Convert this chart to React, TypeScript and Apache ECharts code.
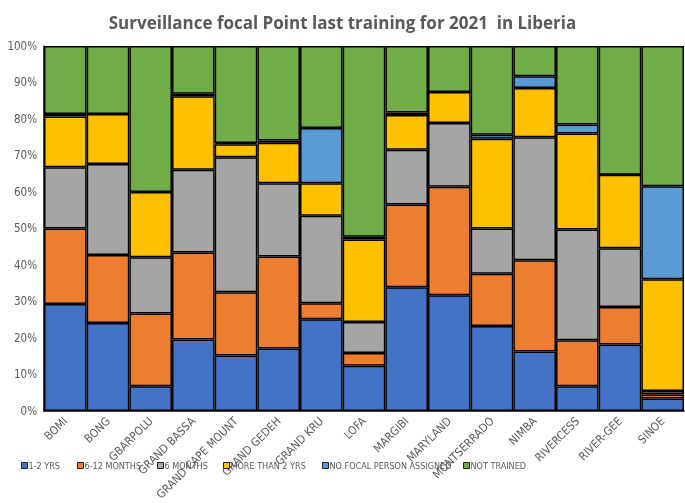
import React, { useEffect, useRef } from "react";
import * as echarts from "echarts";

const categories = ["BOMI", "BONG", "GBARPOLU", "GRAND BASSA", "GRAND CAPE MOUNT", "GRAND GEDEH", "GRAND KRU", "LOFA", "MARGIBI", "MARYLAND", "MONTSERRADO", "NIMBA", "RIVERCESS", "RIVER-GEE", "SINOE"];
const seriesNames = ["1-2 YRS", "6-12 MONTHS", "6 MONTHS", "MORE THAN 2 YRS", "NO FOCAL PERSON ASSIGNED", "NOT TRAINED"];
const yrs1to2 = [29.3, 24.1, 6.8, 19.6, 15.2, 17.1, 25.1, 12.4, 33.9, 31.7, 23.3, 16.3, 6.8, 18.2, 3.4];
const months6to12 = [20.7, 18.6, 19.9, 23.8, 17.3, 25.2, 4.4, 3.5, 22.7, 29.7, 14.3, 25.0, 12.6, 10.3, 1.1];
const months6 = [16.8, 25.0, 15.4, 22.7, 37.0, 20.1, 24.0, 8.5, 15.0, 17.5, 12.4, 33.7, 30.3, 16.1, 1.0];
const moreThan2 = [13.9, 13.7, 17.9, 20.1, 3.6, 11.1, 8.9, 22.6, 9.5, 8.5, 24.6, 13.5, 26.3, 20.1, 30.6];
const noFocal = [0.7, 0, 0, 0.7, 0.3, 0.6, 15.1, 0.7, 0.7, 0, 1.1, 3.2, 2.5, 0, 25.5];
const notTrained = [18.6, 18.6, 40.0, 13.1, 26.6, 25.9, 22.5, 52.3, 18.2, 12.6, 24.3, 8.3, 21.5, 35.3, 38.4];

const allData = [yrs1to2, months6to12, months6, moreThan2, noFocal, notTrained];
const colors = ["#4472C4", "#ED7D31", "#A5A5A5", "#FFC000", "#5B9BD5", "#70AD47"];
const legendLefts = [16, 72, 152, 218, 317, 458];

export default function App() {
  const ref = useRef<HTMLDivElement>(null);
  useEffect(() => {
    if (!ref.current) return;
    const chart = echarts.init(ref.current, null, { renderer: "svg" });
    const narrow = "'Liberation Sans Narrow', 'DejaVu Sans Condensed', Roboto, sans-serif";
    chart.setOption({
      animation: false,
      title: {
        text: "Surveillance focal Point last training for 2021  in Liberia",
        left: "center",
        top: 9,
        textStyle: { fontFamily: "'Open Sans', sans-serif", fontSize: 17, fontWeight: "bold", color: "#595959" },
      },
      legend: seriesNames.map((n, i) => ({
        data: [n],
        left: legendLefts[i],
        top: 456,
        itemWidth: 6,
        itemHeight: 6,
        itemGap: 2,
        icon: "rect",
        itemStyle: { borderColor: "#222", borderWidth: 1 },
        textStyle: { fontFamily: narrow, fontSize: 9, color: "#595959", padding: [0, 0, 0, -4] },
      })),
      grid: { left: 44, right: 1, top: 46, bottom: 88, containLabel: false },
      xAxis: {
        type: "category",
        data: categories,
        axisLine: { show: true, lineStyle: { color: "#000", width: 1.5 } },
        axisTick: { show: false },
        axisLabel: { rotate: 45, interval: 0, fontFamily: narrow, fontSize: 11.5, color: "#595959", margin: 8 },
      },
      yAxis: {
        type: "value",
        min: 0,
        max: 100,
        interval: 10,
        axisLine: { show: true, lineStyle: { color: "#000", width: 1.5 } },
        axisTick: { show: false },
        splitLine: { show: false },
        axisLabel: { formatter: "{value}%", fontFamily: narrow, fontSize: 11.5, color: "#595959", margin: 7 },
      },
      series: seriesNames.map((n, i) => ({
        name: n,
        type: "bar",
        stack: "total",
        barCategoryGap: 0,
        data: allData[i],
        itemStyle: { color: colors[i], borderColor: "#000", borderWidth: 1.5 },
      })),
    });
    return () => chart.dispose();
  }, []);
  return <div ref={ref} style={{ position: "fixed", left: 0, top: 0, width: 685, height: 503 }} />;
}
